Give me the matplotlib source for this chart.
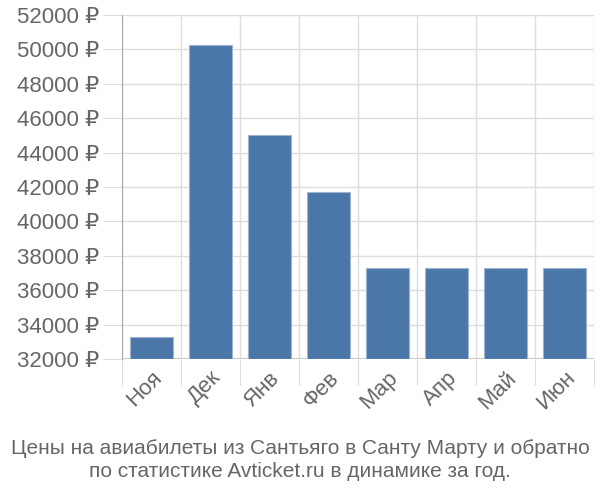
import matplotlib
matplotlib.use("Agg")
import matplotlib.pyplot as plt
import numpy as np

months = ["Ноя", "Дек", "Янв", "Фев", "Мар", "Апр", "Май", "Июн"]
prices = [33300, 50250, 45000, 41700, 37300, 37300, 37300, 37300]
y_ticks = list(range(32000, 52001, 2000))
title = "Цены на авиабилеты из Сантьяго в Санту Марту и обратно\nпо статистике Avticket.ru в динамике за год."

plt.rcParams['font.family'] = ['Liberation Sans', 'DejaVu Sans']

fig = plt.figure(figsize=(6, 5), dpi=100)
ax = fig.add_axes([0.203, 0.282, 0.787, 0.688])

base = 32000
x = np.arange(len(months)) + 0.5
ax.bar(x, [p - base for p in prices], bottom=base, width=0.72,
       color='#4a76a8', edgecolor='#9db5d3', linewidth=0.8, zorder=3)

ax.set_xlim(0, len(months))
ax.set_ylim(32000, 52000)

ax.set_yticks(y_ticks)
ax.set_yticklabels([f"{v} ₽" for v in y_ticks])
ax.set_xticks(np.arange(len(months) + 1))
ax.set_xticklabels([])
ax.set_xticks(x, minor=True)
ax.set_xticklabels(months, minor=True, rotation=45, ha='right', rotation_mode='anchor')

ax.tick_params(axis='y', length=14, color='#dddddd', labelsize=16, labelcolor='#666666', pad=2)
ax.tick_params(axis='x', which='major', length=19, color='#dddddd')
ax.tick_params(axis='x', which='minor', length=0, labelsize=16, labelcolor='#666666', pad=6)

ax.grid(True, color='#dddddd', linewidth=1, zorder=0)
for s in ['top', 'right', 'bottom']:
    ax.spines[s].set_visible(False)
ax.spines['left'].set_color('#aaaaaa')
ax.spines['left'].set_bounds(32000, 52000)
ax.axhline(32000, color='#cccccc', linewidth=1.5, zorder=2)

fig.text(0.5, 0.08, title, ha='center', va='center', fontsize=15,
         color='#666666', linespacing=1.25)

fig.savefig("out.png", dpi=100)
